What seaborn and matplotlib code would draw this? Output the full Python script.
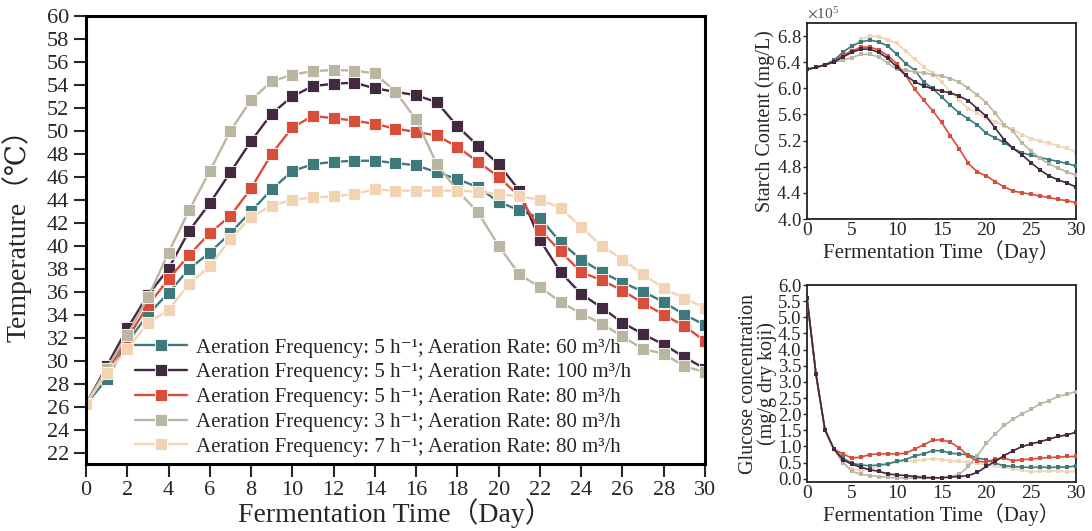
import numpy as np
import pandas as pd
import seaborn as sns
import matplotlib
matplotlib.use("Agg")
import matplotlib.pyplot as plt
from matplotlib.font_manager import FontProperties
from matplotlib.ticker import MultipleLocator, FormatStrFormatter, ScalarFormatter

sns.set_theme(style="ticks")
plt.rcParams['font.family'] = ['Liberation Serif', 'DejaVu Serif', 'Noto Sans CJK SC']
plt.rcParams['mathtext.fontset'] = 'stix'

# ---------------- data ----------------
days = list(range(31))

labels = [
    "Aeration Frequency: 5 h\u207b\u00b9; Aeration Rate: 60 m\u00b3/h",
    "Aeration Frequency: 5 h\u207b\u00b9; Aeration Rate: 100 m\u00b3/h",
    "Aeration Frequency: 5 h\u207b\u00b9; Aeration Rate: 80 m\u00b3/h",
    "Aeration Frequency: 3 h\u207b\u00b9; Aeration Rate: 80 m\u00b3/h",
    "Aeration Frequency: 7 h\u207b\u00b9; Aeration Rate: 80 m\u00b3/h",
]
colors = ["#3E7A7B", "#42293F", "#D94D3B", "#B9B7A2", "#F0D4B4"]

# Temperature (deg C)
temp_f5_r60 = [26.2, 28.4, 31.6, 34.0, 35.9, 38.0, 39.4, 41.1, 43.0, 44.9, 46.5,
               47.1, 47.3, 47.4, 47.4, 47.2, 47.0, 46.4, 45.8, 45.1, 43.8,
               43.1, 42.4, 40.3, 38.8, 37.7, 36.8, 36.0, 35.1, 34.0, 33.1]
temp_f5_r100 = [26.2, 29.5, 32.8, 35.7, 38.0, 41.3, 43.7, 46.4, 49.1, 51.5, 53.0,
                53.9, 54.1, 54.2, 53.7, 53.4, 53.1, 52.5, 50.4, 48.7, 47.1,
                44.8, 40.5, 37.7, 35.8, 34.6, 33.3, 32.3, 31.4, 30.3, 29.3]
temp_f5_r80 = [26.2, 29.0, 31.9, 34.8, 37.1, 39.2, 41.1, 42.6, 45.0, 48.0, 50.3,
               51.3, 51.1, 50.9, 50.6, 50.2, 49.9, 49.6, 48.6, 47.3, 46.0,
               44.3, 41.4, 39.5, 37.7, 37.0, 36.1, 35.0, 34.0, 33.0, 31.7]
temp_f3_r80 = [26.2, 29.3, 32.2, 35.5, 39.4, 43.1, 46.5, 50.0, 52.7, 54.3, 54.9,
               55.2, 55.3, 55.25, 55.0, 53.4, 51.0, 47.1, 44.8, 42.9, 40.0,
               37.5, 36.4, 35.1, 34.1, 33.2, 32.1, 31.0, 30.6, 29.5, 29.0]
temp_f7_r80 = [26.2, 28.9, 31.0, 33.3, 34.4, 36.7, 38.2, 40.6, 42.5, 43.5, 44.0,
               44.2, 44.3, 44.5, 44.9, 44.8, 44.8, 44.8, 44.8, 44.7, 44.5,
               44.3, 44.0, 43.3, 41.6, 40.0, 38.8, 37.5, 36.3, 35.4, 34.6]

# Starch content (x 10^5 mg/L)
starch_scale = 1e5
starch_f5_r60 = [6.29, 6.32, 6.36, 6.43, 6.55, 6.65, 6.71, 6.74, 6.71, 6.65, 6.52,
                 6.38, 6.28, 6.10, 6.00, 5.87, 5.74, 5.62, 5.53, 5.44, 5.31,
                 5.24, 5.17, 5.08, 5.01, 4.98, 4.94, 4.91, 4.88, 4.85, 4.81]
starch_f5_r100 = [6.29, 6.32, 6.36, 6.40, 6.48, 6.55, 6.60, 6.60, 6.55, 6.46, 6.33,
                  6.20, 6.10, 6.04, 5.99, 5.96, 5.93, 5.88, 5.81, 5.69, 5.57,
                  5.39, 5.21, 5.08, 4.98, 4.86, 4.75, 4.66, 4.60, 4.55, 4.49]
starch_f5_r80 = [6.29, 6.32, 6.36, 6.41, 6.51, 6.57, 6.63, 6.63, 6.59, 6.50, 6.38,
                 6.20, 5.99, 5.82, 5.66, 5.48, 5.27, 5.07, 4.85, 4.72, 4.66,
                 4.57, 4.49, 4.43, 4.40, 4.38, 4.35, 4.33, 4.30, 4.28, 4.25]
starch_f3_r80 = [6.29, 6.32, 6.36, 6.40, 6.43, 6.47, 6.52, 6.52, 6.48, 6.39, 6.29,
                 6.28, 6.25, 6.24, 6.21, 6.19, 6.15, 6.09, 6.00, 5.90, 5.78,
                 5.62, 5.44, 5.34, 5.16, 5.04, 4.93, 4.84, 4.78, 4.72, 4.67]
starch_f7_r80 = [6.29, 6.32, 6.36, 6.41, 6.48, 6.60, 6.75, 6.80, 6.79, 6.74, 6.69,
                 6.57, 6.45, 6.33, 6.23, 6.10, 5.95, 5.82, 5.69, 5.62, 5.54,
                 5.49, 5.43, 5.37, 5.29, 5.23, 5.19, 5.16, 5.12, 5.08, 5.03]

# Glucose concentration (mg/g dry koji)
gluc_f5_r60 = [5.59, 3.24, 1.52, 0.92, 0.64, 0.48, 0.43, 0.40, 0.43, 0.46, 0.54,
               0.59, 0.71, 0.77, 0.87, 0.87, 0.79, 0.77, 0.74, 0.64, 0.59,
               0.48, 0.40, 0.38, 0.36, 0.35, 0.36, 0.35, 0.36, 0.36, 0.40]
gluc_f5_r100 = [5.59, 3.24, 1.52, 0.92, 0.59, 0.45, 0.36, 0.28, 0.23, 0.15, 0.12,
                0.10, 0.07, 0.04, 0.03, 0.03, 0.05, 0.07, 0.10, 0.20, 0.38,
                0.54, 0.72, 0.87, 1.00, 1.08, 1.15, 1.23, 1.31, 1.36, 1.44]
gluc_f5_r80 = [5.59, 3.24, 1.52, 0.92, 0.77, 0.64, 0.67, 0.75, 0.77, 0.77, 0.77,
               0.79, 0.92, 1.05, 1.19, 1.21, 1.13, 0.95, 0.71, 0.54, 0.52,
               0.61, 0.64, 0.56, 0.59, 0.61, 0.64, 0.66, 0.67, 0.69, 0.69]
gluc_f3_r80 = [5.59, 3.24, 1.52, 0.92, 0.50, 0.23, 0.14, 0.10, 0.07, 0.04, 0.03,
               0.02, 0.02, 0.02, 0.02, 0.03, 0.07, 0.14, 0.38, 0.72, 1.10,
               1.39, 1.65, 1.85, 2.01, 2.15, 2.32, 2.42, 2.55, 2.62, 2.70]
gluc_f7_r80 = [5.59, 3.24, 1.52, 0.92, 0.50, 0.30, 0.25, 0.30, 0.38, 0.45, 0.52,
               0.54, 0.56, 0.59, 0.62, 0.59, 0.56, 0.54, 0.51, 0.48, 0.43,
               0.38, 0.35, 0.31, 0.26, 0.21, 0.23, 0.23, 0.25, 0.21, 0.23]

temp_series = [temp_f5_r60, temp_f5_r100, temp_f5_r80, temp_f3_r80, temp_f7_r80]
starch_series = [starch_f5_r60, starch_f5_r100, starch_f5_r80, starch_f3_r80, starch_f7_r80]
gluc_series = [gluc_f5_r60, gluc_f5_r100, gluc_f5_r80, gluc_f3_r80, gluc_f7_r80]
small_zorder = [3, 6, 4, 3, 2]

# ---------------- figure ----------------
W, H = 1092, 531
fig = plt.figure(figsize=(W / 100, H / 100), dpi=100)

def rect(l, t, r, b):
    return [l / W, 1 - b / H, (r - l) / W, (b - t) / H]

ax = fig.add_axes(rect(86, 16, 705, 464))
ax1 = fig.add_axes(rect(807, 23, 1076, 219))
ax2 = fig.add_axes(rect(807, 285, 1076, 482))

fam = ['Liberation Serif', 'DejaVu Serif', 'Noto Sans CJK SC']

# main temperature plot
for lab, col, vals in zip(labels, colors, temp_series):
    sns.lineplot(x=days, y=vals, ax=ax, color=col, marker='s', markersize=9,
                 markeredgecolor='white', markeredgewidth=0.6, linewidth=1.7,
                 label=lab)
ax.set_xlim(0, 30)
ax.set_ylim(21, 60)
ax.xaxis.set_major_locator(MultipleLocator(2))
ax.set_yticks(np.arange(22, 61, 2))
ax.tick_params(axis='both', direction='out', length=9, width=1.5, labelsize=16,
               top=False, right=False, pad=3)
for lab_ in ax.get_xticklabels() + ax.get_yticklabels():
    lab_.set_family(fam)
for s in ax.spines.values():
    s.set_linewidth(2.2)
    s.set_color('black')
ax.set_xlabel("Fermentation Time\uff08Day\uff09", fontsize=20, family=fam, labelpad=-1)
ax.set_ylabel("Temperature\uff08\u2103\uff09", fontsize=20, family=fam)
ax.yaxis.set_label_coords(-0.088, 0.525)
leg = ax.legend(loc='upper left', bbox_to_anchor=(0.065, 0.30), frameon=False,
                prop=FontProperties(family=fam, size=15), handlelength=2.5,
                handletextpad=0.45, labelspacing=0.25, borderaxespad=0)

# starch plot
for lab, col, vals, z in zip(labels, colors, starch_series, small_zorder):
    sns.lineplot(x=days, y=np.array(vals) * starch_scale, ax=ax1, color=col,
                 marker='s', markersize=3, markeredgewidth=0, linewidth=1.2,
                 legend=False, zorder=z)
ax1.set_xlim(0, 30)
ax1.set_ylim(4.0 * starch_scale, 7.0 * starch_scale)
ax1.set_yticks(np.arange(4.0, 6.81, 0.4) * starch_scale)
ax1.xaxis.set_major_locator(MultipleLocator(5))
fmt = ScalarFormatter(useMathText=True)
fmt.set_powerlimits((0, 0))
ax1.yaxis.set_major_formatter(fmt)
ax1.yaxis.offsetText.set_fontsize(11)
ax1.yaxis.offsetText.set_color('#555555')
ax1.set_ylabel("Starch Content (mg/L)", fontsize=14.5, family=fam, labelpad=1)
ax1.set_xlabel("Fermentation Time\uff08Day\uff09", fontsize=15, family=fam, labelpad=1)

# glucose plot
for lab, col, vals, z in zip(labels, colors, gluc_series, small_zorder):
    sns.lineplot(x=days, y=vals, ax=ax2, color=col, marker='s', markersize=3,
                 markeredgewidth=0, linewidth=1.2, legend=False, zorder=z)
ax2.set_xlim(0, 30)
ax2.set_ylim(-0.1, 6.0)
ax2.set_yticks(np.arange(0, 6.01, 0.5))
ax2.yaxis.set_major_formatter(FormatStrFormatter('%.1f'))
ax2.xaxis.set_major_locator(MultipleLocator(5))
ax2.set_ylabel("Glucose concentration\n(mg/g dry koji)", fontsize=14.5, family=fam,
               labelpad=1, linespacing=0.9)
ax2.set_xlabel("Fermentation Time\uff08Day\uff09", fontsize=15, family=fam, labelpad=1)

for a in (ax1, ax2):
    a.tick_params(axis='y', direction='out', length=3, width=1, labelsize=13.5, pad=1)
    a.tick_params(axis='x', direction='out', length=0, labelsize=14, pad=2)
    for lab_ in a.get_xticklabels() + a.get_yticklabels():
        lab_.set_family(fam)
    for s in a.spines.values():
        s.set_linewidth(1.3)
        s.set_color('#222222')

fig.savefig("out.png", dpi=100)
